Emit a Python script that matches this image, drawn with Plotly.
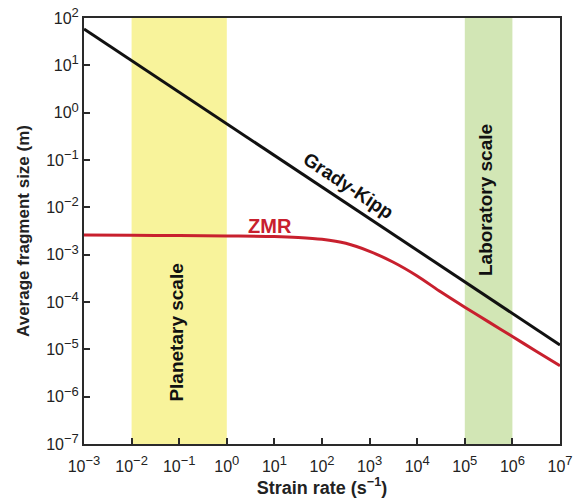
import numpy as np
import plotly.graph_objects as go

# ---- data ----
strain_rate = [1e-3, 1e-2, 1e-1, 1e0, 1e1, 10**1.5, 1e2, 10**2.5, 1e3, 10**3.5,
               1e4, 10**4.5, 1e5, 10**5.5, 1e6, 10**6.5, 1e7]
zmr_size = [10**-2.585, 10**-2.590, 10**-2.597, 10**-2.605, 10**-2.615, 10**-2.635,
            10**-2.675, 10**-2.76, 10**-2.93, 10**-3.16, 10**-3.45, 10**-3.79,
            10**-4.11, 10**-4.42, 10**-4.73, 10**-5.04, 10**-5.346]

gk_rate = [1e-3, 1e7]
gk_size = [58.6, 1.23e-5]

planetary_band = [1e-2, 1e0]
laboratory_band = [1e5, 1e6]
y_limits = [1e-7, 1e2]

x_tick_exp = list(range(-3, 8))
y_tick_exp = list(range(-7, 3))
x_tick_vals = [10.0**e for e in x_tick_exp]
y_tick_vals = [10.0**e for e in y_tick_exp]
def sup(e):
    return ("10<sup><span style='font-size:13px'>" + str(e).replace("-", "\u2212")
            + "</span></sup>")
x_tick_text = [sup(e) for e in x_tick_exp]
y_tick_text = [sup(e) for e in y_tick_exp]

FONT = "Liberation Sans, Arial, Helvetica, sans-serif"
YELLOW = "rgb(248,243,155)"
GREEN = "rgb(210,230,181)"
RED = "rgb(200,32,46)"

fig = go.Figure()

def band(xr, color):
    fig.add_trace(go.Scatter(
        x=[xr[0], xr[0], xr[1], xr[1], xr[0]],
        y=[y_limits[0], y_limits[1], y_limits[1], y_limits[0], y_limits[0]],
        fill="toself", fillcolor=color, line=dict(width=0),
        mode="lines", hoverinfo="skip", showlegend=False))

band(planetary_band, YELLOW)
band(laboratory_band, GREEN)

fig.add_trace(go.Scatter(x=gk_rate, y=gk_size, mode="lines",
                         line=dict(color="#111111", width=3), showlegend=False))
fig.add_trace(go.Scatter(x=strain_rate, y=zmr_size, mode="lines",
                         line=dict(color=RED, width=3, shape="spline", smoothing=0.8),
                         showlegend=False))

lg = np.log10
annos = [
    dict(x=lg(10**-1.05), y=lg(10**-4.65), text="<b>Planetary scale</b>", textangle=-90,
         font=dict(size=19, color="#111111", family=FONT)),
    dict(x=lg(10**5.42), y=lg(10**-1.85), text="<b>Laboratory scale</b>", textangle=-90,
         font=dict(size=19, color="#111111", family=FONT)),
    dict(x=lg(10**2.55), y=lg(10**-1.53), text="<b>Grady-Kipp</b>", textangle=33.5,
         font=dict(size=19, color="#111111", family=FONT)),
    dict(x=lg(10**0.91), y=lg(10**-2.395), text="<b>ZMR</b>", textangle=0,
         font=dict(size=20, color=RED, family=FONT)),
]
for a in annos:
    a.update(xref="x", yref="y", showarrow=False)
    fig.add_annotation(**a)

axis_common = dict(type="log", showgrid=False, zeroline=False, automargin=False,
                   showline=True, linecolor="#2a2a2a", linewidth=2, mirror=True,
                   ticks="inside", ticklen=6, tickwidth=1.5, tickcolor="#2a2a2a",
                   tickfont=dict(size=16, color="#222222", family=FONT))

fig.update_xaxes(**axis_common, range=[-3, 7], tickvals=x_tick_vals, ticktext=x_tick_text,
                 ticklabelstandoff=7,
                 title=dict(text="<b>Strain rate (s<sup>\u22121</sup>)</b>",
                            font=dict(size=18, color="#222222", family=FONT), standoff=6))
fig.update_yaxes(**axis_common, range=[-7, 2], tickvals=y_tick_vals, ticktext=y_tick_text,
                 title=dict(text="<b>Average fragment size (m)</b>",
                            font=dict(size=17, color="#222222", family=FONT), standoff=12))

fig.update_layout(width=580, height=499, margin=dict(l=84, r=20, t=18, b=55),
                  plot_bgcolor="white", paper_bgcolor="white", showlegend=False)

fig.write_html("out.html", config={"displayModeBar": False},
               post_script="document.body.style.margin='0';")
